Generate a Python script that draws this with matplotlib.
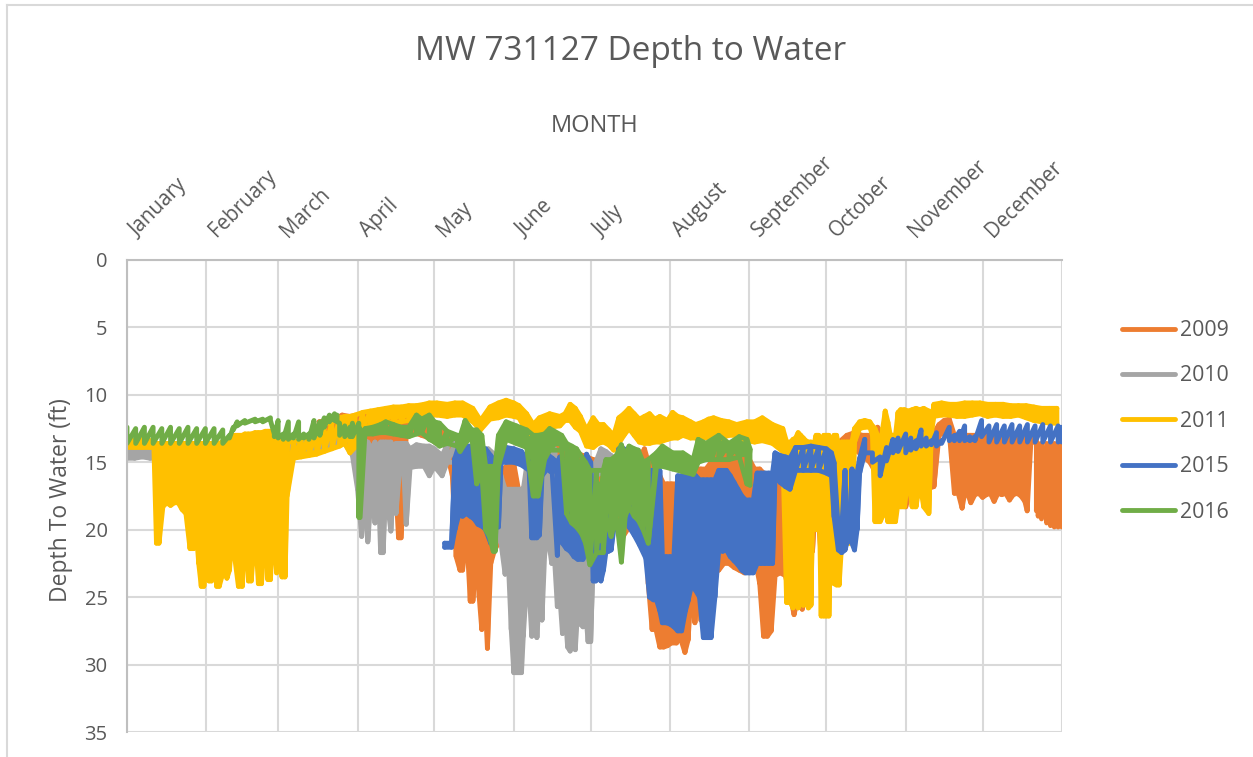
#!/usr/bin/env python3
# Depth to water for MW 731127, one line per year on a shared Jan-Dec axis
import numpy as np
import matplotlib
matplotlib.use('Agg')
import matplotlib.pyplot as plt
from matplotlib.lines import Line2D
from matplotlib.transforms import ScaledTranslation

plt.rcParams['font.family'] = ['Open Sans', 'DejaVu Sans']

months = ['January', 'February', 'March', 'April', 'May', 'June', 'July',
          'August', 'September', 'October', 'November', 'December']
month_starts = [0, 31, 59, 90, 120, 151, 181, 212, 243, 273, 304, 334, 365]
depth_ticks = [0, 5, 10, 15, 20, 25, 30, 35]
years = ['2009', '2010', '2011', '2015', '2016']
colors = ['#ED7D31', '#A5A5A5', '#FFC000', '#4472C4', '#70AD47']

# each year: day of year, shallowest and deepest reading around that day (ft)
days_2009 = [
    75, 78, 81, 84, 87, 90, 93, 96, 99, 102,
    104, 106, 107, 109, 112, 115, 118, 121, 124, 127,
    128.5, 130, 131, 132.5, 134, 135, 136.5, 137.5, 138.5, 139.5,
    140.7, 142, 143.5, 145, 147, 149, 151, 152.8, 155, 156,
    158, 163, 165, 166, 168, 172, 178, 182, 186, 190,
    193, 196, 199, 202, 203.5, 205, 206.5, 208, 209.5, 211,
    212.5, 214.5, 216, 217.8, 219, 220.5, 221.7, 223, 224, 226,
    228, 230, 231, 233, 235, 237, 239, 241, 243, 245,
    247, 248.5, 250, 251.5, 253, 255, 257, 259, 260.4, 262,
    263.6, 265, 267.6, 269, 271, 272.5, 275, 278, 281, 284,
    287, 290, 293, 295, 296.5, 298, 300, 302, 304, 306,
    309, 312, 315, 317, 319, 321, 323, 324.5, 326, 327,
    328.5, 329.4, 331, 332.5, 334, 335.5, 337, 338.5, 340, 341.5,
    343, 344.5, 346, 347.5, 349, 350.5, 351.4, 353, 355, 355.7,
    357, 359, 360.5, 362, 363.5, 365]
shallow_2009 = [
    12, 11.9, 11.8, 11.5, 11.6, 11.5, 11.4, 12.8, 12.4, 12,
    12, 12, 11.9, 11.9, 11.8, 12, 12.4, 12.6, 12.8, 14,
    15, 16, 16, 16, 16, 16, 17, 17, 17, 18,
    18, 18, 18, 19, 15.5, 15.1, 15.1, 17, 19, 19,
    15, 14.5, 14, 14, 14, 14, 14.5, 14.8, 15, 15.5,
    15.5, 15, 15, 14, 15, 16, 16, 16, 16.6, 16.6,
    16.6, 16.6, 17, 17, 17, 17, 17, 15.5, 15.5, 15.5,
    15, 15, 14.3, 14.5, 14.5, 14.6, 14.8, 14.8, 14.8, 15.5,
    15.5, 15.8, 16, 16, 16, 16, 16, 16, 16, 16,
    16, 16, 15.5, 15.8, 15.8, 15.8, 14.5, 13.5, 13, 12.8,
    13, 13, 12.4, 13, 13, 13, 13, 13, 13, 13,
    13, 13, 12.8, 12.2, 11.9, 11.8, 13, 13, 13, 13,
    13, 13, 13, 13, 13, 13, 13, 13, 13, 13,
    13, 13, 13, 13, 13, 13, 13, 13, 13.2, 13.6,
    13.6, 13.6, 13.6, 13.6, 13.6, 13.6]
deep_2009 = [
    12.6, 12.5, 12.4, 12.2, 12.4, 12.5, 12.8, 13.6, 13.5, 13.2,
    13.5, 20.6, 20.6, 13, 12.8, 13, 13.2, 13.6, 13.6, 16,
    22, 23, 23, 20, 25.3, 25.3, 22, 25, 27.4, 24,
    28.8, 22.5, 21.5, 21, 18, 20.5, 18, 19.5, 21, 22.7,
    18, 16, 20.3, 20, 15, 15, 15.5, 15.6, 16.5, 18,
    20.7, 19.8, 18, 15, 24, 27.4, 27.4, 28.7, 28.7, 28.6,
    28.4, 28.4, 28, 29.1, 28.2, 24, 26.9, 24, 26.7, 23,
    23, 23, 23, 22.5, 22.5, 22.8, 23, 23.2, 21, 22,
    24, 27.9, 27.9, 27.5, 23.4, 23.2, 23.4, 25, 26.3, 25,
    25.9, 22, 21.6, 17, 22, 18, 16, 15, 14.5, 14,
    14.5, 15, 16, 17, 18.3, 16, 17, 18, 18.3, 17,
    17, 17, 16.8, 13, 12.8, 12.8, 17.3, 17.3, 18.4, 17.3,
    17.5, 18, 17.4, 17.3, 17.6, 17.4, 17.3, 17.9, 17.3, 17.4,
    17.3, 17.8, 17.4, 17.3, 17.5, 17.9, 18.6, 13.6, 18.6, 19,
    19.2, 19.5, 19.7, 19.8, 19.8, 19.8]

days_2010 = [
    0, 3, 6, 9, 11, 25, 40, 55, 70, 85,
    88, 90, 91.6, 93, 94, 95.5, 96.8, 98, 99, 100,
    101, 103, 104, 105, 106.5, 108, 109, 110.5, 113, 116,
    118, 120, 123, 125, 128, 131, 134, 138, 141, 144,
    146, 147.6, 149, 150, 151, 152, 153, 154, 154.7, 156,
    157, 158, 159, 160, 161, 162, 163, 164, 165.8, 167,
    168, 169, 170, 171, 172, 173, 174, 175, 176, 177,
    178, 179, 180, 181, 183, 185, 187, 189, 192]
shallow_2010 = [
    14, 14, 13.9, 14, 14, 14, 14, 13.5, 13.5, 13.3,
    13.5, 13.5, 13.5, 14, 13.5, 14, 13.5, 14, 13.5, 13.5,
    13.5, 13.5, 13.8, 13.6, 13.6, 13.6, 13.6, 14, 13.7, 13.8,
    13.8, 14, 14.5, 13.7, 13.6, 13.5, 14, 14.2, 14, 14.5,
    16, 17, 17, 17, 17, 17, 17, 17, 17, 15.3,
    15.3, 15.3, 15.3, 15.3, 15.3, 15.3, 15.3, 15.3, 14, 14,
    20, 20, 20, 20.5, 20.5, 20.8, 20.8, 20.8, 20.8, 20.8,
    20.8, 20.8, 20.8, 20.8, 15, 14, 14.2, 14.5, 15]
deep_2010 = [
    14.7, 14.7, 14.6, 14.7, 14.7, 14.5, 14.5, 14, 14, 13.6,
    14.5, 17, 20.5, 17, 20.9, 17, 19.5, 16, 21.7, 21.7,
    17, 20.1, 17, 18.8, 15.4, 15.4, 19.6, 15.4, 15.3, 15.3,
    16, 15.3, 16, 15, 15, 15, 15, 15.4, 15.4, 18,
    21, 23.3, 23, 27.4, 30.6, 30.6, 30.6, 30.6, 27.9, 24,
    24.5, 27.9, 24, 28, 25, 26.7, 22, 20, 22.5, 22.5,
    25.7, 25, 27.7, 26, 28.7, 29, 27, 28.9, 25.7, 27,
    27.2, 26, 28.3, 28.3, 16, 15.8, 15.8, 15.5, 15.5]

days_2011 = [
    0, 3, 6, 9, 10.5, 11.5, 12.5, 14, 15.5, 17,
    18.5, 20, 21.5, 23, 24.6, 26, 27, 28, 29, 30,
    31, 32, 33, 34, 35, 36, 37, 38, 39, 40,
    41, 42, 43.5, 45, 46, 47.4, 48.5, 50, 51.3, 52.5,
    54, 55, 56, 57, 58.4, 59.5, 60.5, 61.7, 62.5, 65,
    68, 71, 74, 77, 80, 83, 85, 87, 89, 92,
    95, 98, 101, 104, 107, 110, 113, 116, 118, 121,
    125, 128, 131, 135, 138, 141.7, 145, 148, 151, 153,
    156, 158.6, 161, 165, 169, 171, 173, 175, 177, 179.4,
    182, 184, 186, 188, 190, 192, 194, 196, 198, 200,
    202, 204, 206, 208, 211, 213, 215, 217, 220, 222,
    225, 227, 229, 232, 235, 238, 242, 245, 248, 252,
    256, 257.5, 259, 260, 261, 262, 263, 264, 265, 266,
    267, 268, 269, 270, 271, 272, 273, 274, 275, 276,
    277, 278, 279, 280, 281, 282, 283, 284, 286, 288,
    290, 291, 292, 293, 294, 295, 296, 297, 298, 299,
    300, 301, 302, 303.5, 305, 306.5, 308, 309.5, 311, 313,
    314, 315, 318, 321, 324, 327, 330, 333, 336, 339,
    342, 345, 348, 351, 354, 357, 360, 363]
shallow_2011 = [
    13.3, 13.4, 13.3, 13.4, 13.5, 13.6, 13.6, 13.6, 13.6, 13.6,
    13.6, 13.6, 13.6, 13.6, 13.6, 13.6, 13.6, 13.6, 13.6, 13.6,
    13.6, 13.6, 13.6, 13.6, 13.6, 13.6, 13.5, 13.5, 13.4, 13.2,
    13, 13, 13, 13, 12.9, 12.9, 12.9, 12.8, 12.8, 12.8,
    12.7, 12.7, 12.7, 12.8, 12.9, 13, 13.1, 13.3, 13.5, 13.5,
    13.3, 13, 12.6, 12.2, 12, 11.7, 11.6, 11.6, 11.5, 11.3,
    11.2, 11.1, 11, 10.9, 10.9, 10.8, 10.8, 10.7, 10.6, 10.6,
    10.7, 10.6, 10.6, 11, 11.9, 10.9, 10.6, 10.4, 10.6, 10.8,
    11.4, 12.2, 11.7, 11.4, 11.6, 11.4, 10.7, 11, 11.6, 12.6,
    11.7, 12.2, 12.2, 12.6, 13, 11.7, 11.4, 11, 11.4, 11.8,
    11.6, 11.4, 11.8, 11.6, 11.9, 11.3, 11.6, 11.7, 12, 12.2,
    12, 11.8, 11.7, 11.9, 12, 12.2, 12, 12, 11.7, 12.2,
    12.5, 13.5, 13.5, 13.3, 13.2, 12.8, 13, 13.2, 13.4, 13.5,
    13.5, 13.8, 13, 13, 14, 13, 13, 13, 14, 13,
    13, 14, 13.5, 13.5, 13.5, 13.5, 13.5, 12.5, 12, 11.9,
    12, 12.3, 12.5, 13, 14, 12.5, 11.2, 12, 13, 13,
    13, 11.3, 11.1, 11.1, 11.2, 11.1, 11, 11.1, 11, 11.2,
    12, 10.7, 10.6, 10.7, 10.7, 10.6, 10.6, 10.6, 10.7, 10.7,
    10.7, 10.8, 10.8, 10.8, 10.9, 11, 11, 11]
deep_2011 = [
    13.9, 13.9, 13.9, 13.9, 13.9, 21, 21, 18.3, 18, 18.2,
    18, 18, 18.5, 18.8, 21.4, 21.4, 20, 22.5, 24.2, 24.2,
    19, 23.8, 23.8, 20, 24.2, 24.2, 23.5, 21, 23.6, 23,
    20.5, 22, 24.2, 24.2, 19.5, 23.8, 23.8, 20, 24, 24,
    19.5, 23.7, 23.7, 19.5, 23.2, 20, 23.5, 23.5, 17.5, 14.7,
    14.6, 14.5, 14.4, 14.2, 14, 13.8, 13.6, 14.3, 13.9, 12.5,
    12.2, 12.2, 12, 12, 12, 11.9, 11.8, 11.7, 11.5, 11.5,
    11.6, 11.5, 11.5, 12, 12.6, 11.8, 11.7, 11.5, 11.6, 11.7,
    12.7, 13, 12.9, 12.4, 12.3, 11.9, 11.9, 12.4, 12.7, 13.8,
    13.9, 13.6, 13.5, 13.7, 14.1, 13.6, 13, 12.5, 13, 13.5,
    13.6, 13.6, 13.5, 13.5, 13.3, 13.2, 13.2, 13, 13.2, 13.2,
    13.2, 13.2, 13.1, 13.2, 13, 13, 13.4, 13.5, 13.4, 13.6,
    14.2, 25.4, 25.4, 25.8, 25.2, 25.8, 25.4, 25.6, 25.4, 25.8,
    25.6, 14.5, 20, 15.5, 26.4, 26.4, 26.4, 26.4, 15, 24,
    24.1, 24.1, 21, 15, 21, 21, 20.2, 13.5, 12.5, 12.4,
    12.4, 13, 19.4, 19.4, 19.4, 19, 14, 19.4, 19.4, 19.4,
    19.4, 18, 18.3, 18.3, 16, 18.3, 18.3, 16.5, 18.3, 18.8,
    12.8, 11.6, 11.5, 11.5, 11.6, 11.6, 11.5, 11.4, 11.6, 11.5,
    11.6, 11.6, 11.5, 11.7, 11.9, 12, 12.1, 12.1]

days_2015 = [
    124, 126.7, 128, 129.5, 131, 132.5, 134, 135.5, 137, 139,
    140, 142, 144, 145, 146, 148, 151, 154, 157, 158,
    159, 160, 161, 162, 164, 166, 168, 169, 170, 171.5,
    173, 174.5, 176, 178, 179.4, 181, 182, 183, 184, 185,
    186, 187, 188, 189, 190, 192, 194, 196, 198, 200,
    202.5, 204, 205.5, 206.7, 208, 209, 210.5, 212, 213.5, 215,
    216.5, 218, 219, 220.5, 222, 223.5, 225, 226.5, 228, 229.5,
    231, 232.5, 234, 235.5, 237, 238.5, 240, 241.5, 243, 244.5,
    246, 247.5, 249, 250.5, 252, 253, 255, 257, 258.8, 261,
    264, 267, 270, 273, 275, 276, 277.7, 279, 280.3, 281,
    282.2, 283, 284, 285, 286, 288, 291, 294, 296.5, 299,
    301, 304, 306, 308, 310, 312, 314, 316, 318, 321,
    323, 325, 327, 329, 331, 333.6, 336.5, 339.5, 342.5, 345.5,
    348.5, 351.5, 354.5, 357.5, 360.5, 363.5, 365]
shallow_2015 = [
    21, 21, 14.7, 13.8, 13.8, 13.8, 13.8, 13.8, 13.9, 14,
    14, 14.5, 15, 15.3, 14.8, 13.9, 14, 14.2, 15, 17.8,
    17.8, 17.8, 17.8, 15, 14.4, 14.7, 15, 14.6, 18.8, 18.8,
    18.8, 18.8, 18.8, 19, 14.4, 15, 21.2, 21.2, 21.2, 21.2,
    21.2, 19, 19, 19, 19, 14, 14, 18.3, 18.5, 18.8,
    19, 15.6, 15.6, 15.6, 15.6, 22, 22, 22, 22, 16,
    16, 16, 16, 16, 16, 16.3, 16.3, 16.3, 16.3, 16.3,
    15.6, 15.6, 15.6, 16, 16.5, 17, 17.5, 17.8, 17.8, 17.8,
    15.8, 15.8, 15.8, 15.8, 15.8, 14.3, 14.5, 14.6, 14.7, 13.9,
    13.9, 13.8, 13.9, 14, 14.3, 15, 20, 20, 15.6, 20,
    20.3, 15.5, 16, 15.8, 14.7, 13.3, 14.3, 14.6, 13.9, 13.3,
    13.2, 12.9, 13.2, 13.4, 12.6, 13.2, 13.4, 12.8, 13.4, 12.4,
    13, 12.7, 12.3, 13.1, 13.1, 11.9, 12.3, 12.2, 12.3, 12.2,
    12.3, 12.2, 12.3, 12.2, 12.3, 12.3, 12.4]
deep_2015 = [
    21.3, 21.3, 20, 18.9, 19, 18.8, 19, 19.2, 19.6, 19.8,
    20, 21, 18, 19.8, 15, 15, 15, 15.2, 15.6, 20.6,
    20.6, 20.6, 20.4, 16, 15.5, 15.8, 21.9, 16, 21, 21.4,
    21.6, 22, 22.2, 22.2, 15.3, 15.6, 23.8, 23.8, 23.6, 23.8,
    23, 21.6, 21.6, 21.5, 20, 15, 15.3, 19.8, 20.4, 21.1,
    22.1, 25, 25.2, 25.2, 26, 26.9, 26.9, 27, 27.2, 27.5,
    27.5, 26, 25.3, 24, 24.5, 25, 28, 28, 28, 25,
    21.5, 21.6, 21.5, 22, 22.3, 22.6, 23, 23.2, 23.2, 23.2,
    22.5, 22.5, 22.5, 22.5, 22.5, 16, 16.5, 16.8, 17, 15.6,
    15.6, 15.6, 15.6, 15.8, 16, 19, 21.5, 21.7, 21.5, 21,
    20.3, 21, 21.5, 20, 15.8, 14.3, 15, 16, 14.9, 14.3,
    14.2, 14.3, 14.1, 14, 13.8, 13.8, 13.7, 13.8, 13.6, 13.4,
    13.4, 13.4, 13.4, 13.4, 13.4, 13.1, 13.5, 13.5, 13.5, 13.5,
    13.5, 13.5, 13.5, 13.5, 13.5, 13.5, 13.5]

days_2016 = [
    0, 3.4, 6.8, 10.2, 13.6, 17, 20.4, 23.8, 27.2, 30.6,
    34, 37.4, 40, 41.5, 43, 46, 50, 53, 56, 57.5,
    59, 61, 63, 65, 67, 69, 71, 73, 75.3, 77,
    79, 81, 82, 83, 85, 87, 88, 90.5, 91, 93,
    96, 99, 101, 104, 107, 110, 113, 115, 118, 120,
    122, 125, 129, 130, 132, 134.6, 136.5, 138.5, 140, 141.5,
    143, 143.7, 145, 148, 152, 156, 158.6, 160.5, 163, 165,
    169.7, 171.6, 173.6, 175.5, 177.5, 179, 180.7, 183.3, 185.9, 187,
    189, 191, 193, 194.5, 196, 198, 199.6, 201.5, 203.5, 206.7,
    209, 213, 217, 221, 223, 226, 231, 235, 239, 242,
    243.2]
shallow_2016 = [
    12.4, 12.5, 12.4, 12.4, 12.5, 12.4, 12.5, 12.4, 12.5, 12.5,
    12.5, 12.6, 13, 12.4, 12, 11.9, 11.8, 11.8, 11.7, 12.9,
    11.9, 12.9, 12, 12.9, 12, 12.9, 12.9, 11.9, 12, 11.7,
    11.5, 11.4, 11.5, 12.1, 12.3, 12.4, 12.1, 12.1, 12.5, 12.5,
    12.4, 12.2, 12, 12.2, 12.4, 12.4, 11.5, 11.8, 11.5, 12,
    12.1, 12.7, 13, 13.1, 11.9, 12.6, 12.6, 13, 15.3, 15.3,
    15.3, 15.3, 13, 12, 12.3, 12.6, 13, 13, 12.9, 12.5,
    13, 13.6, 13.8, 14, 14.6, 15, 15.6, 15.6, 15.6, 14.8,
    14.8, 14.5, 13.7, 14.5, 13.8, 14, 14.1, 15, 14.8, 14.3,
    13.8, 14.3, 14.3, 14.8, 13.3, 13.6, 13, 13.6, 13.1, 13.3,
    14]
deep_2016 = [
    13.6, 13.6, 13.6, 13.6, 13.6, 13.6, 13.6, 13.6, 13.6, 13.6,
    13.6, 13.6, 13.2, 12.6, 12.3, 12.1, 12, 12, 11.9, 13.1,
    13.2, 13.3, 13.3, 13.2, 13.3, 13.2, 13.3, 13.2, 13, 12.4,
    12, 11.9, 12, 13, 13.1, 13.1, 13.1, 19.1, 19.1, 12.9,
    12.9, 12.8, 12.8, 12.9, 13, 13.1, 12.9, 12.8, 13.3, 13.5,
    13.8, 13.6, 13.8, 14.2, 13.6, 13.1, 16.6, 15.8, 20, 20.5,
    21.6, 21.6, 15.3, 13.3, 13.6, 13.9, 17.5, 17.5, 14.8, 14.1,
    14.1, 18.8, 19.5, 19.8, 20.3, 21, 22.6, 21.7, 21.7, 19,
    20.5, 19, 22.4, 19, 18.3, 19, 19.3, 20, 21, 15.3,
    15.3, 15.5, 15.7, 15.9, 15, 14.8, 14.8, 14.8, 14.6, 16.6,
    16.7]

series = [(days_2009, shallow_2009, deep_2009),
          (days_2010, shallow_2010, deep_2010),
          (days_2011, shallow_2011, deep_2011),
          (days_2015, shallow_2015, deep_2015),
          (days_2016, shallow_2016, deep_2016)]

# days where readings swing so fast the line looks solid, elsewhere it saw-tooths
band_from = [75, 0, 0, 124, 93]
band_to = [351.4, 192, 363, 288, 243.2]

TEXT = '#595959'
GRID = '#D9D9D9'
LW = 3.5

fig = plt.figure(figsize=(12.53, 7.57), dpi=100)
ax = fig.add_axes([127/1253, 1-732/757, 935/1253, 472/757])

for (days, shallow, deep), start, stop, year, color in zip(series, band_from, band_to,
                                                           years, colors):
    days = np.array(days)
    shallow = np.array(shallow)
    deep = np.array(deep)
    ax.plot(np.repeat(days, 2), np.column_stack((shallow, deep)).ravel(), color=color,
            lw=LW, label=year, solid_capstyle='round', solid_joinstyle='round')
    band = (days >= start) & (days <= stop)
    ax.fill_between(days[band], shallow[band], deep[band], color=color, lw=0)
    ax.plot(days[band], shallow[band], color=color, lw=LW, solid_capstyle='round')
    ax.plot(days[band], deep[band], color=color, lw=LW, solid_capstyle='round')

ax.set_xlim(0, 365)
ax.set_ylim(35, 0)
ax.xaxis.tick_top()
ax.xaxis.set_label_position('top')
ax.set_xticks(month_starts)
ax.set_xticklabels(months + [''], rotation=45, ha='left', va='baseline',
                   rotation_mode='anchor', fontsize=14.8, color=TEXT)
ax.set_yticks(depth_ticks)
ax.tick_params(axis='y', labelsize=14.5, labelcolor=TEXT, length=0, pad=14)
ax.tick_params(axis='x', length=0, pad=14)
# labels start just right of each month line, tick_params resets this so it goes after
shift = ScaledTranslation(10/100, 3/100, fig.dpi_scale_trans)
for label in ax.get_xticklabels():
    label.set_transform(label.get_transform() + shift)
ax.grid(True, color=GRID, lw=1.5)
ax.set_axisbelow(True)
for side in ax.spines:
    ax.spines[side].set_visible(False)
ax.spines['left'].set_visible(True)
ax.spines['top'].set_visible(True)
ax.spines['left'].set_color('#BFBFBF')
ax.spines['top'].set_color('#BFBFBF')
ax.spines['left'].set_linewidth(1.5)
ax.spines['top'].set_linewidth(1.5)

ax.set_xlabel('MONTH', fontsize=17, color=TEXT, labelpad=0)
ax.xaxis.set_label_coords(0.5, (732-126)/472, transform=ax.transAxes)
ax.xaxis.label.set_va('center')
ax.set_ylabel('Depth To Water (ft)', fontsize=16.5, color=TEXT, va='center')
ax.yaxis.set_label_coords((61-127)/935, 0.5-4/472)
fig.text(631/1253, 1-51/757, 'MW 731127 Depth to Water', ha='center', va='center',
         fontsize=24, color=TEXT)

handles, labels = ax.get_legend_handles_labels()
fig.legend(handles, labels, loc='upper left', bbox_to_anchor=(1122/1253, 1-320/757),
           frameon=False, fontsize=15.3, labelcolor=TEXT, handlelength=2.5,
           handletextpad=0.25, labelspacing=1.15, borderpad=0, borderaxespad=0)

# chart area border, only top and left are inside the crop
fig.add_artist(Line2D([7/1253, 7/1253], [0, 1-5/757], color=GRID, lw=1.5))
fig.add_artist(Line2D([7/1253, 1], [1-5/757, 1-5/757], color=GRID, lw=1.5))

fig.savefig('out.png', dpi=100)
